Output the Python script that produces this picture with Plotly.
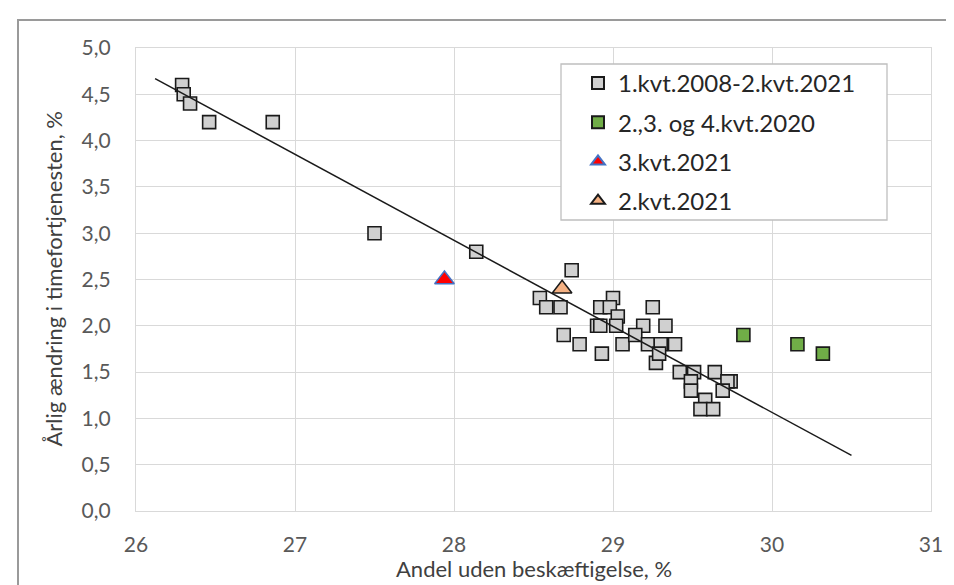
import plotly.graph_objects as go

# ---- data ----
gray_x = [26.29, 26.30, 26.34, 26.46, 26.86, 27.50, 28.14, 28.74, 28.54, 28.58, 28.67,
          29.00, 28.92, 28.98, 29.03, 28.90, 28.92, 29.02, 29.25, 29.19, 29.33, 28.69,
          28.79, 28.93, 29.06, 29.14, 29.22, 29.30, 29.39, 29.27, 29.29, 29.42, 29.51,
          29.64, 29.49, 29.74, 29.72, 29.69, 29.49, 29.58, 29.55, 29.63]
gray_y = [4.6, 4.5, 4.4, 4.2, 4.2, 3.0, 2.8, 2.6, 2.3, 2.2, 2.2,
          2.3, 2.2, 2.2, 2.1, 2.0, 2.0, 2.0, 2.2, 2.0, 2.0, 1.9,
          1.8, 1.7, 1.8, 1.9, 1.8, 1.8, 1.8, 1.6, 1.7, 1.5, 1.5,
          1.5, 1.4, 1.4, 1.4, 1.3, 1.3, 1.2, 1.1, 1.1]
green_x = [29.82, 30.16, 30.32]
green_y = [1.9, 1.8, 1.7]
red_x = [27.94]
red_y = [2.5]
orange_x = [28.68]
orange_y = [2.4]
trend_x = [26.12, 30.50]
trend_y = [4.67, 0.60]

labels = ["1.kvt.2008-2.kvt.2021", "2.,3. og 4.kvt.2020", "3.kvt.2021", "2.kvt.2021"]
x_title = "Andel uden beskæftigelse, %"
y_title = "Årlig ændring i timefortjenesten, %"

FONT = "Lato"

fig = go.Figure()
fig.add_trace(go.Scatter(x=gray_x, y=gray_y, mode="markers", name=labels[0],
                         legendgroup="a",
                         marker=dict(symbol="square", size=13, color="#d0d0d0",
                                     line=dict(color="#1a1a1a", width=1.6))))
fig.add_trace(go.Scatter(x=green_x, y=green_y, mode="markers", name=labels[1],
                         legendgroup="b",
                         marker=dict(symbol="square", size=13, color="#70ad47",
                                     line=dict(color="#1a1a1a", width=1.6))))
fig.add_trace(go.Scatter(x=trend_x, y=trend_y, mode="lines", showlegend=False,
                         line=dict(color="#1a1a1a", width=1.5), hoverinfo="skip"))
fig.add_trace(go.Scatter(x=red_x, y=red_y, mode="markers", name=labels[2],
                         legendgroup="c",
                         marker=dict(symbol="triangle-up", size=17, color="#ff0000",
                                     line=dict(color="#4472c4", width=1.5))))
fig.add_trace(go.Scatter(x=orange_x, y=orange_y, mode="markers", name=labels[3],
                         legendgroup="d",
                         marker=dict(symbol="triangle-up", size=17, color="#f4b183",
                                     line=dict(color="#1a1a1a", width=1.5))))

W, H = 954, 585
L, R, T, B = 128, 31, 40, 82
pw, ph = W - L - R, H - T - B

def px2paper_x(px):
    return (px - L) / pw

def px2paper_y(py):
    return (H - B - py) / ph

fig.update_layout(
    width=W, height=H,
    margin=dict(l=L, r=R, t=T, b=B),
    paper_bgcolor="white", plot_bgcolor="white",
    separators=", ",
    font=dict(family=FONT, size=21, color="#595959"),
    showlegend=True,
    legend=dict(
        x=px2paper_x(570), y=px2paper_y(53), xanchor="left", yanchor="top",
        bgcolor="rgba(0,0,0,0)", borderwidth=0,
        font=dict(family=FONT, size=24, color="#262626"),
        traceorder="grouped", tracegroupgap=5,
        itemsizing="constant",
    ),
    xaxis=dict(
        range=[26, 31], dtick=1, tick0=26,
        showgrid=True, gridcolor="#d9d9d9", gridwidth=1.3,
        showline=True, linecolor="#d9d9d9", linewidth=1.3, mirror=True,
        zeroline=False, ticks="", ticklabelstandoff=15,
        tickfont=dict(family=FONT, size=21, color="#595959"),
    ),
    yaxis=dict(
        range=[0, 5], dtick=0.5, tick0=0, tickformat=".1f",
        showgrid=True, gridcolor="#d9d9d9", gridwidth=1.3,
        showline=True, linecolor="#d9d9d9", linewidth=1.3, mirror=True,
        zeroline=False, ticks="", ticklabelstandoff=20,
        tickfont=dict(family=FONT, size=21, color="#595959"),
    ),
    annotations=[
        dict(text=x_title, xref="paper", yref="paper",
             x=0.5, y=px2paper_y(560), xanchor="center", yanchor="middle",
             showarrow=False, font=dict(family=FONT, size=22, color="#404040")),
        dict(text=y_title, xref="paper", yref="paper", textangle=-90,
             x=px2paper_x(45), y=0.5, xanchor="center", yanchor="middle",
             showarrow=False, font=dict(family=FONT, size=22, color="#404040")),
    ],
    shapes=[
        # outer chart frame
        dict(type="rect", xref="paper", yref="paper",
             x0=px2paper_x(10), x1=px2paper_x(970),
             y0=px2paper_y(600), y1=px2paper_y(12),
             line=dict(color="#9a9a9a", width=2), fillcolor="rgba(0,0,0,0)",
             layer="below"),
        # legend box
        dict(type="rect", xref="paper", yref="paper",
             x0=px2paper_x(553), x1=px2paper_x(879),
             y0=px2paper_y(212), y1=px2paper_y(56),
             line=dict(color="#bfbfbf", width=1.3), fillcolor="white",
             layer="above"),
    ],
)

fig.write_html("out.html")
